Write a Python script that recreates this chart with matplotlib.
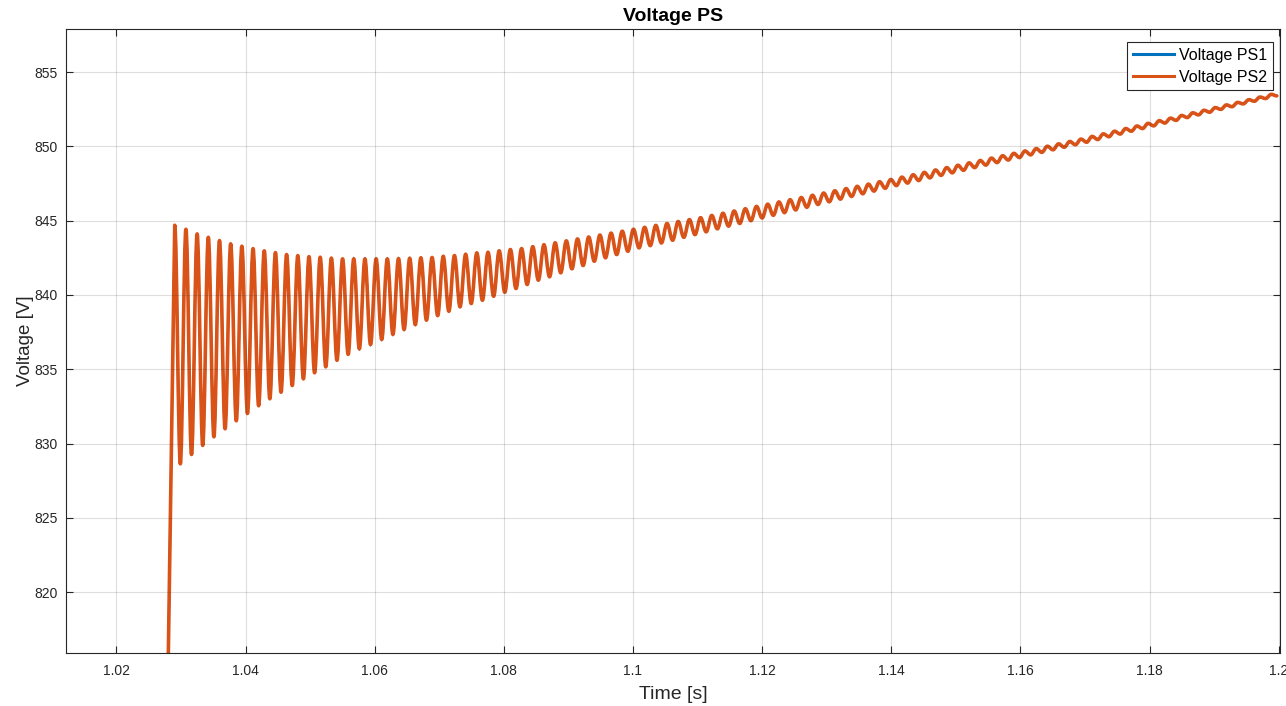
import numpy as np
import matplotlib
matplotlib.use('Agg')
import matplotlib.pyplot as plt
from matplotlib.path import Path
from matplotlib.patches import PathPatch
from matplotlib.lines import Line2D
from matplotlib.ticker import FuncFormatter

# ---------------- data ----------------
t_start = 1.0275          # last point below the axis (start of the rise)
v_start = 800.0
t_first_peak = 1.02904    # first peak of the ripple
period = 0.0017326        # ripple period [s]

peaks = [844.69, 844.42, 844.11, 843.88, 843.66, 843.44, 843.28, 843.12, 842.97, 842.85,
         842.72, 842.65, 842.58, 842.54, 842.48, 842.43, 842.43, 842.43, 842.43, 842.43,
         842.45, 842.47, 842.50, 842.52, 842.60, 842.65, 842.74, 842.83, 842.87, 842.97,
         843.06, 843.12, 843.25, 843.38, 843.51, 843.64, 843.77, 843.90, 844.03, 844.16,
         844.29, 844.42, 844.55, 844.68, 844.81, 844.94, 845.07, 845.20, 845.35, 845.50,
         845.65, 845.80, 845.96, 846.11, 846.26, 846.41, 846.56, 846.71, 846.86, 847.01,
         847.16, 847.31, 847.46, 847.62, 847.77, 847.93, 848.09, 848.25, 848.41, 848.57,
         848.73, 848.89, 849.05, 849.21, 849.37, 849.53, 849.69, 849.85, 850.01, 850.17,
         850.33, 850.49, 850.67, 850.84, 851.02, 851.20, 851.37, 851.55, 851.73, 851.90,
         852.08, 852.26, 852.43, 852.61, 852.79, 852.96, 853.14, 853.32, 853.50]

troughs = [828.63, 829.26, 829.87, 830.45, 830.99, 831.53, 832.02, 832.54, 833.01, 833.45,
           833.90, 834.35, 834.76, 835.16, 835.60, 836.00, 836.37, 836.66, 837.00, 837.34,
           837.67, 838.00, 838.30, 838.61, 838.90, 839.20, 839.42, 839.64, 839.91, 840.18,
           840.43, 840.70, 840.99, 841.22, 841.49, 841.76, 841.98, 842.27, 842.50, 842.72,
           842.94, 843.17, 843.32, 843.50, 843.68, 843.88, 844.06, 844.25, 844.45, 844.63,
           844.81, 845.00, 845.18, 845.36, 845.54, 845.72, 845.90, 846.09, 846.27, 846.45,
           846.63, 846.81, 846.99, 847.18, 847.36, 847.53, 847.70, 847.88, 848.05, 848.22,
           848.39, 848.57, 848.74, 848.91, 849.08, 849.25, 849.43, 849.60, 849.77, 849.94,
           850.11, 850.28, 850.46, 850.65, 850.83, 851.02, 851.20, 851.38, 851.57, 851.75,
           851.94, 852.12, 852.30, 852.49, 852.67, 852.86, 853.04, 853.22, 853.40]

x_ticks = [1.02, 1.04, 1.06, 1.08, 1.1, 1.12, 1.14, 1.16, 1.18, 1.2]
y_ticks = [820, 825, 830, 835, 840, 845, 850, 855]

# ---------------- series: rise, then peak, trough, peak, ... ----------------
ext_vals = np.empty(len(peaks) + len(troughs))
ext_vals[0::2] = peaks
ext_vals[1::2] = troughs
ext_t = t_first_peak + np.arange(len(ext_vals)) * period / 2


def ripple_path(t0, v0, ts, vs, k=0.36):
    # straight rise to the first peak, then smooth (bezier) arcs between the extrema
    verts = [(t0, v0), (ts[0], vs[0])]
    codes = [Path.MOVETO, Path.LINETO]
    for i in range(1, len(ts)):
        d = (ts[i] - ts[i-1]) * k
        verts += [(ts[i-1] + d, vs[i-1]), (ts[i] - d, vs[i]), (ts[i], vs[i])]
        codes += [Path.CURVE4] * 3
    return Path(verts, codes)


path = ripple_path(t_start, v_start, ext_t, ext_vals)

# ---------------- plotting ----------------
plt.rcParams['font.family'] = ['Liberation Sans', 'DejaVu Sans']
fig = plt.figure(figsize=(12.86, 7.06), dpi=100)
ax = fig.add_axes([66/1286, 1-653/706, (1280-66)/1286, (653-29)/706])

c1, c2 = '#0072BD', '#D95319'
ax.add_patch(PathPatch(path, fill=False, edgecolor=c1, lw=1.6, capstyle='round'))
ax.add_patch(PathPatch(path, fill=False, edgecolor=c2, lw=2.6, capstyle='round',
                       joinstyle='round'))

ax.set_xlim(1.0122, 1.2002)
ax.set_ylim(815.9, 857.9)
ax.set_xticks(x_ticks)
ax.set_yticks(y_ticks)
ax.xaxis.set_major_formatter(FuncFormatter(lambda val, pos: f'{val:g}'))
ax.tick_params(direction='in', top=True, right=True, length=5, width=0.8,
               colors='#262626', labelsize=10, pad=8)
ax.tick_params(axis='y', pad=6)
for s in ax.spines.values():
    s.set_color('#262626')
    s.set_linewidth(0.8)
ax.grid(True, color='#262626', alpha=0.15, lw=0.8)

ax.set_title('Voltage PS', fontsize=14, fontweight='bold', color='black', pad=6)
ax.set_xlabel('Time [s]', fontsize=14, color='#262626', labelpad=6)
ax.set_ylabel('Voltage [V]', fontsize=13.5, color='#262626', labelpad=0)

handles = [Line2D([], [], color=c1, lw=2.2), Line2D([], [], color=c2, lw=2.2)]
leg = ax.legend(handles, ['Voltage PS1', 'Voltage PS2'], loc='upper right',
                bbox_to_anchor=(1273/1286, 1-42/706), bbox_transform=fig.transFigure,
                fontsize=11.5, frameon=True, fancybox=False, edgecolor='#262626',
                framealpha=1, borderaxespad=0, handlelength=2.6, borderpad=0.35,
                labelspacing=0.45, handletextpad=0.3)
leg.get_frame().set_linewidth(0.8)

fig.savefig('out.png', dpi=100)
